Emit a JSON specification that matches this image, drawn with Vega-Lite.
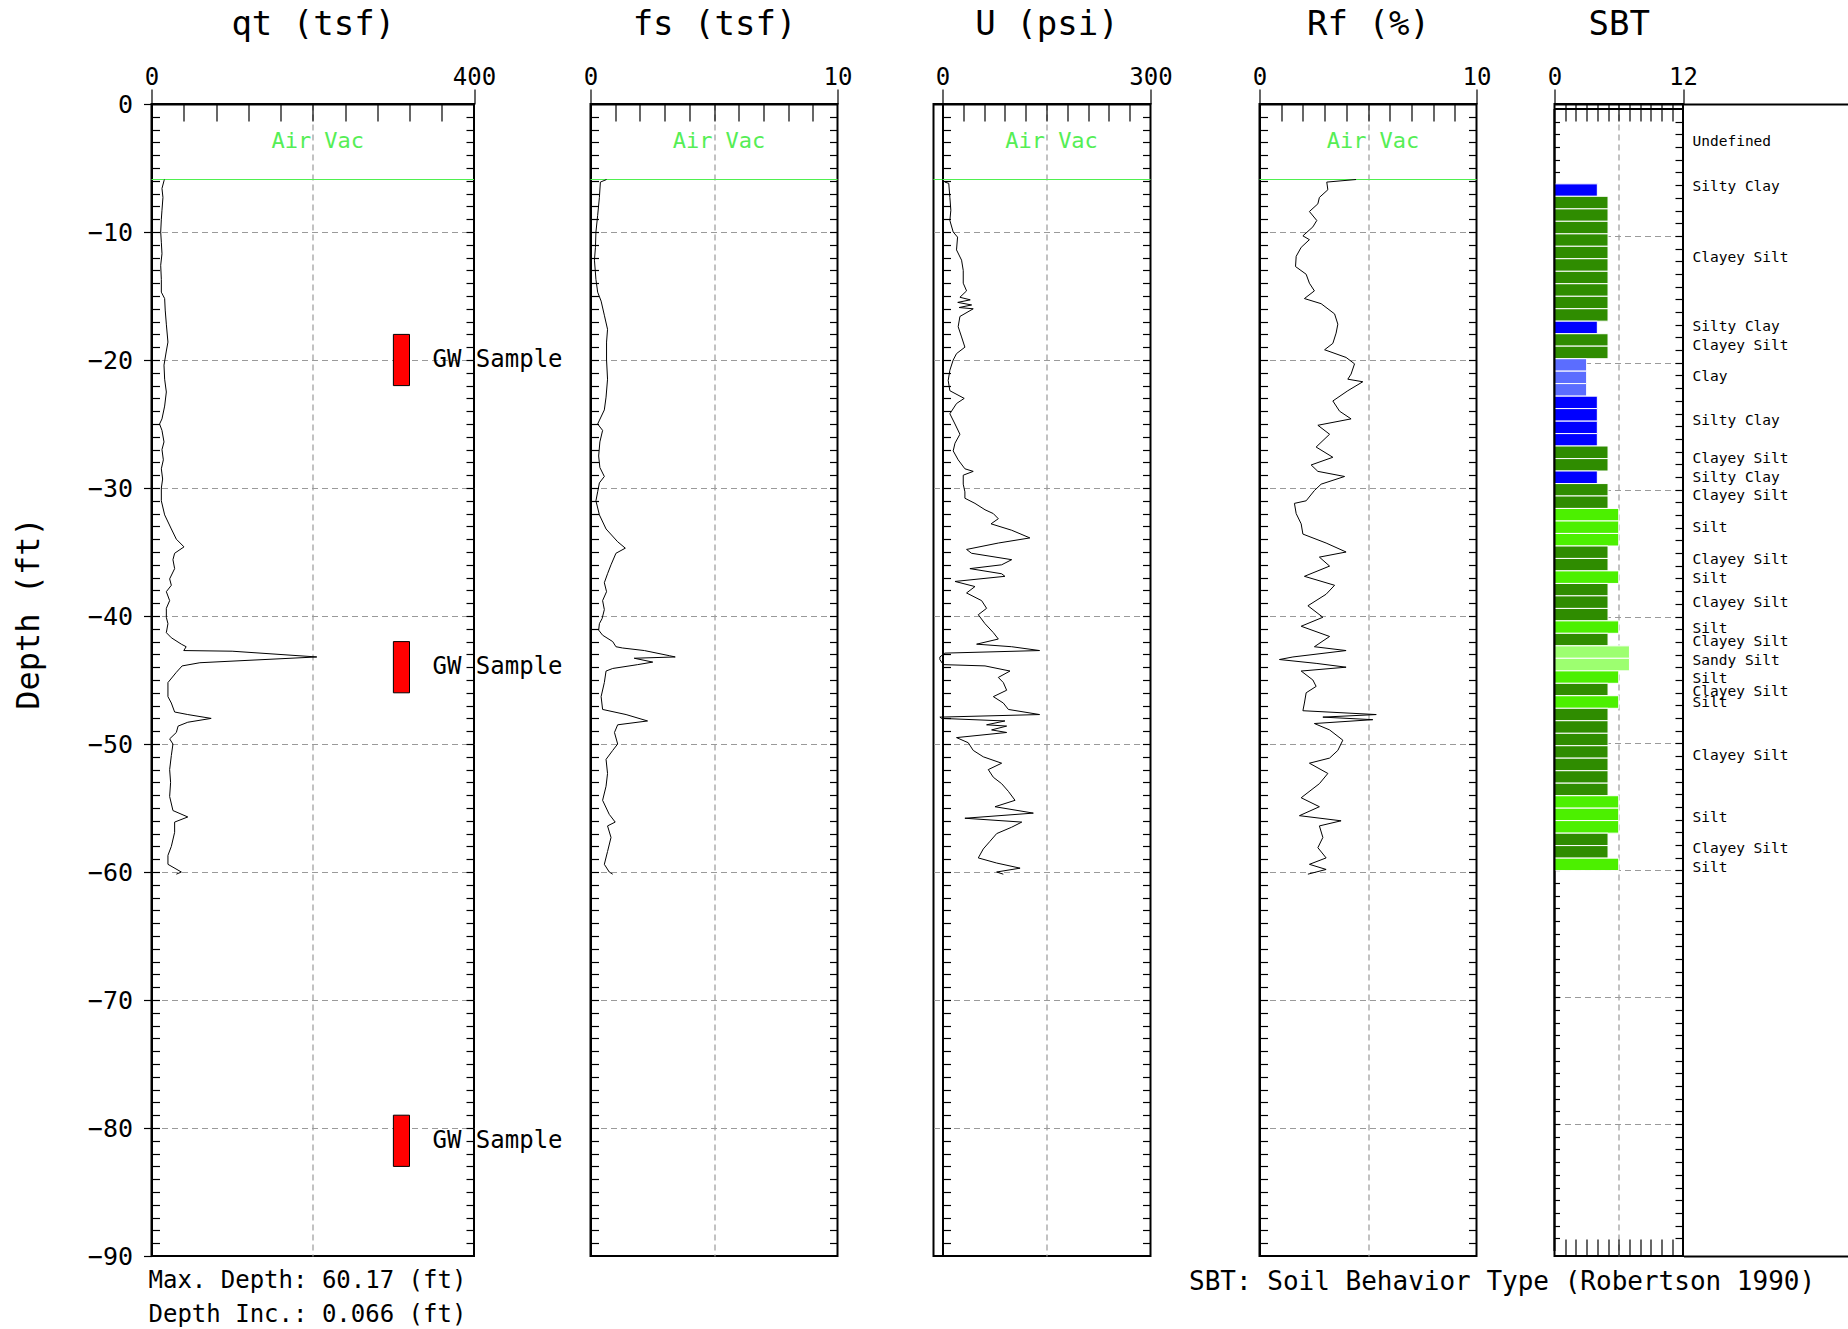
{
"$schema": "https://vega.github.io/schema/vega-lite/v6.json",
"autosize": {"type": "pad"},
"padding": {"left": 10.5, "top": 6, "right": 0, "bottom": 0},
"spacing": 0,
"bounds": "flush",
"config": {
 "font": "DejaVu Sans Mono",
 "view": {"stroke": "black", "strokeWidth": 2},
 "axis": {"labelFont": "DejaVu Sans Mono", "titleFont": "DejaVu Sans Mono", "labelColor": "black", "titleColor": "black", "tickColor": "black", "domainColor": "black", "titleFontWeight": "normal", "labelFlush": false, "labelOverlap": false, "labelBound": false, "grid": false, "tickWidth": 1.2, "domainWidth": 2, "gridDash": [6, 4], "gridColor": "#9a9a9a", "gridWidth": 1.2, "labelFontSize": 24, "titleFontSize": 34},
 "text": {"font": "DejaVu Sans Mono", "color": "black"}
},
"datasets": {
 "qt": [
  {"depth": -5.9, "v": 16}, {"depth": -6.0, "v": 15.5}, {"depth": -6.6, "v": 13}, {"depth": -7.3, "v": 14.2}, {"depth": -8.3, "v": 13}, {"depth": -9.0, "v": 12.2}, {"depth": -10, "v": 11.4}, {"depth": -10.8, "v": 12.2}, {"depth": -11.7, "v": 13}, {"depth": -12.6, "v": 11.4}, {"depth": -13.7, "v": 12.2}, {"depth": -14.7, "v": 12.2}, {"depth": -15.2, "v": 16.3}, {"depth": -16.1, "v": 17}, {"depth": -17.2, "v": 18.4}, {"depth": -18.6, "v": 20.4}, {"depth": -19.3, "v": 18.4}, {"depth": -20.4, "v": 15.5}, {"depth": -21.5, "v": 16.3}, {"depth": -22.5, "v": 18.4}, {"depth": -23.6, "v": 16.3}, {"depth": -24.6, "v": 13}, {"depth": -25.0, "v": 10}, {"depth": -25.5, "v": 13}, {"depth": -26.4, "v": 15.5}, {"depth": -27.0, "v": 13}, {"depth": -27.8, "v": 14.7}, {"depth": -28.5, "v": 12.2}, {"depth": -29.3, "v": 13.8}, {"depth": -30.0, "v": 12.2}, {"depth": -31.0, "v": 12.2}, {"depth": -32.1, "v": 16.3}, {"depth": -33.2, "v": 24.6}, {"depth": -34.0, "v": 30.8}, {"depth": -34.6, "v": 40.3}, {"depth": -35.1, "v": 28.7}, {"depth": -35.6, "v": 26.6}, {"depth": -36.3, "v": 28.7}, {"depth": -37.1, "v": 22.5}, {"depth": -37.6, "v": 24.6}, {"depth": -38.1, "v": 18.4}, {"depth": -38.8, "v": 22.5}, {"depth": -39.4, "v": 18.4}, {"depth": -40.1, "v": 18.4}, {"depth": -40.6, "v": 20.4}, {"depth": -41.3, "v": 18.4}, {"depth": -41.7, "v": 24.6}, {"depth": -42.2, "v": 37}, {"depth": -42.4, "v": 43}, {"depth": -42.7, "v": 40}, {"depth": -42.75, "v": 100}, {"depth": -43.2, "v": 205}, {"depth": -43.65, "v": 60}, {"depth": -43.9, "v": 38}, {"depth": -44.4, "v": 30.8}, {"depth": -45.2, "v": 20.4}, {"depth": -46.3, "v": 20.4}, {"depth": -46.8, "v": 24.6}, {"depth": -47.5, "v": 28.7}, {"depth": -47.7, "v": 45}, {"depth": -48.0, "v": 74}, {"depth": -48.3, "v": 45}, {"depth": -48.6, "v": 33}, {"depth": -49.1, "v": 30.8}, {"depth": -49.6, "v": 22.5}, {"depth": -50.0, "v": 26.6}, {"depth": -50.9, "v": 24.6}, {"depth": -52.0, "v": 22.5}, {"depth": -53.0, "v": 23.7}, {"depth": -54.1, "v": 22.5}, {"depth": -55.2, "v": 26.6}, {"depth": -55.7, "v": 45}, {"depth": -56.1, "v": 28.7}, {"depth": -56.9, "v": 28.7}, {"depth": -58.0, "v": 24.6}, {"depth": -58.7, "v": 20.4}, {"depth": -59.4, "v": 20.4}, {"depth": -60.0, "v": 37}, {"depth": -60.17, "v": 30.8}
 ],
 "fs": [
  {"depth": -5.9, "v": 0.65}, {"depth": -6.1, "v": 0.4}, {"depth": -7.3, "v": 0.36}, {"depth": -8.7, "v": 0.29}, {"depth": -10, "v": 0.22}, {"depth": -11.2, "v": 0.2}, {"depth": -12.2, "v": 0.16}, {"depth": -13.7, "v": 0.22}, {"depth": -14.7, "v": 0.29}, {"depth": -15.4, "v": 0.43}, {"depth": -16.5, "v": 0.56}, {"depth": -17.6, "v": 0.69}, {"depth": -18.6, "v": 0.65}, {"depth": -20.0, "v": 0.65}, {"depth": -21.5, "v": 0.69}, {"depth": -22.9, "v": 0.63}, {"depth": -23.9, "v": 0.56}, {"depth": -25.0, "v": 0.29}, {"depth": -25.5, "v": 0.49}, {"depth": -26.4, "v": 0.38}, {"depth": -27.5, "v": 0.33}, {"depth": -28.4, "v": 0.38}, {"depth": -29.1, "v": 0.56}, {"depth": -29.6, "v": 0.36}, {"depth": -30.3, "v": 0.29}, {"depth": -31.0, "v": 0.22}, {"depth": -32.1, "v": 0.36}, {"depth": -33.2, "v": 0.63}, {"depth": -34.2, "v": 1.1}, {"depth": -34.7, "v": 1.41}, {"depth": -35.1, "v": 1.03}, {"depth": -36.0, "v": 0.83}, {"depth": -36.7, "v": 0.69}, {"depth": -37.4, "v": 0.56}, {"depth": -38.1, "v": 0.65}, {"depth": -38.8, "v": 0.49}, {"depth": -39.5, "v": 0.56}, {"depth": -40.2, "v": 0.47}, {"depth": -40.6, "v": 0.36}, {"depth": -41.1, "v": 0.33}, {"depth": -41.5, "v": 0.49}, {"depth": -42.0, "v": 0.9}, {"depth": -42.4, "v": 1.03}, {"depth": -42.5, "v": 1.3}, {"depth": -42.7, "v": 2.18}, {"depth": -43.1, "v": 3.19}, {"depth": -43.2, "v": 3.43}, {"depth": -43.3, "v": 1.77}, {"depth": -43.6, "v": 2.52}, {"depth": -43.8, "v": 1.91}, {"depth": -44.1, "v": 0.9}, {"depth": -44.3, "v": 0.63}, {"depth": -45.2, "v": 0.56}, {"depth": -46.3, "v": 0.43}, {"depth": -47.3, "v": 0.49}, {"depth": -47.7, "v": 1.44}, {"depth": -48.2, "v": 2.31}, {"depth": -48.5, "v": 1.1}, {"depth": -49.1, "v": 0.97}, {"depth": -50.0, "v": 1.1}, {"depth": -50.5, "v": 0.9}, {"depth": -51.2, "v": 0.63}, {"depth": -52.3, "v": 0.69}, {"depth": -53.3, "v": 0.63}, {"depth": -54.4, "v": 0.49}, {"depth": -55.5, "v": 0.76}, {"depth": -56.1, "v": 1.0}, {"depth": -56.4, "v": 0.69}, {"depth": -57.3, "v": 0.83}, {"depth": -58.4, "v": 0.69}, {"depth": -59.4, "v": 0.56}, {"depth": -60.0, "v": 0.76}, {"depth": -60.17, "v": 0.9}
 ],
 "u": [
  {"depth": -5.9, "v": 0}, {"depth": -6.1, "v": 3.4}, {"depth": -6.2, "v": 9}, {"depth": -7.3, "v": 10.6}, {"depth": -8.3, "v": 12}, {"depth": -9.1, "v": 10.6}, {"depth": -10, "v": 15.4}, {"depth": -10.4, "v": 21.7}, {"depth": -11.4, "v": 20.2}, {"depth": -12.2, "v": 27.5}, {"depth": -13.0, "v": 29.9}, {"depth": -14.0, "v": 29.9}, {"depth": -14.6, "v": 34.7}, {"depth": -15.1, "v": 25.1}, {"depth": -15.3, "v": 40}, {"depth": -15.5, "v": 22}, {"depth": -15.7, "v": 42}, {"depth": -15.9, "v": 24}, {"depth": -16.0, "v": 44.3}, {"depth": -16.6, "v": 25.1}, {"depth": -17.4, "v": 22.6}, {"depth": -18.2, "v": 27.5}, {"depth": -19.0, "v": 32.3}, {"depth": -19.5, "v": 20.2}, {"depth": -20.0, "v": 15.4}, {"depth": -20.8, "v": 10.6}, {"depth": -21.6, "v": 8.2}, {"depth": -22.4, "v": 10.6}, {"depth": -23.0, "v": 31.3}, {"depth": -23.4, "v": 20.2}, {"depth": -24.2, "v": 10.6}, {"depth": -25.0, "v": 18}, {"depth": -25.8, "v": 25.1}, {"depth": -26.5, "v": 18}, {"depth": -27.1, "v": 15.4}, {"depth": -27.8, "v": 22.6}, {"depth": -28.5, "v": 32.3}, {"depth": -28.7, "v": 44.3}, {"depth": -29.0, "v": 29.9}, {"depth": -29.7, "v": 29.9}, {"depth": -30.3, "v": 32.3}, {"depth": -30.8, "v": 32.3}, {"depth": -31.2, "v": 46.8}, {"depth": -31.7, "v": 61.3}, {"depth": -32.0, "v": 73.3}, {"depth": -32.4, "v": 80.5}, {"depth": -32.8, "v": 70}, {"depth": -33.3, "v": 99.8}, {"depth": -33.9, "v": 126}, {"depth": -34.3, "v": 80.5}, {"depth": -34.8, "v": 34.7}, {"depth": -35.1, "v": 41.9}, {"depth": -35.6, "v": 99.8}, {"depth": -36.0, "v": 85.3}, {"depth": -36.3, "v": 39.5}, {"depth": -36.7, "v": 85.3}, {"depth": -36.9, "v": 90}, {"depth": -37.3, "v": 18}, {"depth": -37.7, "v": 46.8}, {"depth": -38.2, "v": 34.7}, {"depth": -38.8, "v": 56.4}, {"depth": -39.4, "v": 63.6}, {"depth": -39.9, "v": 51.6}, {"depth": -40.6, "v": 61.3}, {"depth": -41.3, "v": 73.3}, {"depth": -41.8, "v": 80.5}, {"depth": -42.2, "v": 49.2}, {"depth": -42.4, "v": 99.8}, {"depth": -42.7, "v": 140}, {"depth": -42.9, "v": 3.4}, {"depth": -43.2, "v": -3.8}, {"depth": -43.4, "v": -3.8}, {"depth": -43.8, "v": 1.0}, {"depth": -43.9, "v": 61.3}, {"depth": -44.3, "v": 97.3}, {"depth": -44.8, "v": 80.5}, {"depth": -45.2, "v": 87.7}, {"depth": -45.8, "v": 92.5}, {"depth": -46.3, "v": 73.3}, {"depth": -46.8, "v": 87.7}, {"depth": -47.3, "v": 95}, {"depth": -47.7, "v": 140}, {"depth": -47.9, "v": -3.8}, {"depth": -48.0, "v": -1.4}, {"depth": -48.2, "v": 90}, {"depth": -48.5, "v": 63.6}, {"depth": -48.6, "v": 92.5}, {"depth": -48.9, "v": 70.8}, {"depth": -49.1, "v": 92.5}, {"depth": -49.5, "v": 20.2}, {"depth": -49.9, "v": 37.1}, {"depth": -50.5, "v": 44.3}, {"depth": -51.0, "v": 58.8}, {"depth": -51.5, "v": 85.3}, {"depth": -52.0, "v": 66}, {"depth": -52.6, "v": 73.3}, {"depth": -53.1, "v": 85.3}, {"depth": -53.7, "v": 95}, {"depth": -54.4, "v": 104.6}, {"depth": -54.9, "v": 75.7}, {"depth": -55.4, "v": 131}, {"depth": -55.8, "v": 32.3}, {"depth": -56.1, "v": 114.3}, {"depth": -56.5, "v": 99.8}, {"depth": -57.0, "v": 78.1}, {"depth": -57.6, "v": 68.5}, {"depth": -58.2, "v": 58.8}, {"depth": -58.9, "v": 51.6}, {"depth": -59.3, "v": 78.1}, {"depth": -59.7, "v": 111.9}, {"depth": -60.0, "v": 78.1}, {"depth": -60.17, "v": 87.7}
 ],
 "rf": [
  {"depth": -5.9, "v": 4.45}, {"depth": -6.1, "v": 3.1}, {"depth": -6.7, "v": 3.15}, {"depth": -7.3, "v": 2.76}, {"depth": -7.8, "v": 2.69}, {"depth": -8.4, "v": 2.3}, {"depth": -9.1, "v": 2.64}, {"depth": -9.6, "v": 2.46}, {"depth": -10.3, "v": 2.0}, {"depth": -10.6, "v": 2.3}, {"depth": -11.2, "v": 1.92}, {"depth": -11.9, "v": 1.69}, {"depth": -12.7, "v": 1.66}, {"depth": -13.3, "v": 2.15}, {"depth": -14.0, "v": 2.3}, {"depth": -14.6, "v": 2.53}, {"depth": -15.2, "v": 2.07}, {"depth": -15.6, "v": 2.84}, {"depth": -16.4, "v": 3.46}, {"depth": -17.2, "v": 3.61}, {"depth": -17.9, "v": 3.53}, {"depth": -18.7, "v": 3.38}, {"depth": -19.2, "v": 3.0}, {"depth": -19.8, "v": 3.99}, {"depth": -20.3, "v": 4.38}, {"depth": -21.1, "v": 4.22}, {"depth": -21.5, "v": 4.07}, {"depth": -21.7, "v": 4.76}, {"depth": -22.4, "v": 4.07}, {"depth": -23.2, "v": 3.38}, {"depth": -24.0, "v": 3.69}, {"depth": -24.6, "v": 4.22}, {"depth": -25.1, "v": 2.69}, {"depth": -25.8, "v": 3.23}, {"depth": -26.8, "v": 2.61}, {"depth": -27.6, "v": 3.38}, {"depth": -28.2, "v": 2.38}, {"depth": -28.7, "v": 2.69}, {"depth": -29.1, "v": 3.92}, {"depth": -29.7, "v": 2.84}, {"depth": -30.2, "v": 2.53}, {"depth": -31.0, "v": 2.15}, {"depth": -31.2, "v": 1.61}, {"depth": -32.0, "v": 1.69}, {"depth": -32.8, "v": 1.92}, {"depth": -33.6, "v": 2.0}, {"depth": -34.3, "v": 3.07}, {"depth": -35.0, "v": 3.99}, {"depth": -35.4, "v": 2.76}, {"depth": -36.1, "v": 3.23}, {"depth": -36.9, "v": 2.07}, {"depth": -37.6, "v": 3.46}, {"depth": -38.3, "v": 3.07}, {"depth": -39.2, "v": 2.23}, {"depth": -40.1, "v": 2.92}, {"depth": -40.8, "v": 1.92}, {"depth": -41.6, "v": 3.23}, {"depth": -42.4, "v": 2.53}, {"depth": -42.7, "v": 3.99}, {"depth": -43.2, "v": 1.54}, {"depth": -43.4, "v": 0.92}, {"depth": -43.7, "v": 2.61}, {"depth": -44.0, "v": 3.99}, {"depth": -44.3, "v": 1.92}, {"depth": -45.0, "v": 2.46}, {"depth": -45.5, "v": 2.61}, {"depth": -46.0, "v": 2.15}, {"depth": -46.8, "v": 2.07}, {"depth": -47.4, "v": 2.0}, {"depth": -47.7, "v": 5.38}, {"depth": -47.9, "v": 2.92}, {"depth": -48.1, "v": 5.22}, {"depth": -48.4, "v": 2.53}, {"depth": -48.9, "v": 3.23}, {"depth": -49.7, "v": 3.84}, {"depth": -50.5, "v": 3.61}, {"depth": -51.1, "v": 3.23}, {"depth": -51.5, "v": 2.3}, {"depth": -52.3, "v": 3.15}, {"depth": -53.1, "v": 2.76}, {"depth": -54.2, "v": 1.92}, {"depth": -54.9, "v": 2.76}, {"depth": -55.6, "v": 1.84}, {"depth": -56.0, "v": 3.76}, {"depth": -56.4, "v": 2.76}, {"depth": -57.3, "v": 2.92}, {"depth": -58.1, "v": 2.69}, {"depth": -58.9, "v": 3.07}, {"depth": -59.4, "v": 2.3}, {"depth": -59.8, "v": 3.07}, {"depth": -60.17, "v": 2.23}
 ],
 "gw": [
  {"top": -18, "bot": -22, "mid": -20, "x1": 300, "x2": 320, "label": "GW Sample"},
  {"top": -42, "bot": -46, "mid": -44, "x1": 300, "x2": 320, "label": "GW Sample"},
  {"top": -79, "bot": -83, "mid": -81, "x1": 300, "x2": 320, "label": "GW Sample"}
 ],
 "sbt": [
  {"top": -5.90, "bot": -6.88, "zone": "Silty Clay", "sbt": 4},
  {"top": -6.88, "bot": -7.87, "zone": "Clayey Silt", "sbt": 5},
  {"top": -7.87, "bot": -8.85, "zone": "Clayey Silt", "sbt": 5},
  {"top": -8.85, "bot": -9.84, "zone": "Clayey Silt", "sbt": 5},
  {"top": -9.84, "bot": -10.82, "zone": "Clayey Silt", "sbt": 5},
  {"top": -10.82, "bot": -11.80, "zone": "Clayey Silt", "sbt": 5},
  {"top": -11.80, "bot": -12.79, "zone": "Clayey Silt", "sbt": 5},
  {"top": -12.79, "bot": -13.77, "zone": "Clayey Silt", "sbt": 5},
  {"top": -13.77, "bot": -14.76, "zone": "Clayey Silt", "sbt": 5},
  {"top": -14.76, "bot": -15.74, "zone": "Clayey Silt", "sbt": 5},
  {"top": -15.74, "bot": -16.72, "zone": "Clayey Silt", "sbt": 5},
  {"top": -16.72, "bot": -17.71, "zone": "Silty Clay", "sbt": 4},
  {"top": -17.71, "bot": -18.69, "zone": "Clayey Silt", "sbt": 5},
  {"top": -18.69, "bot": -19.68, "zone": "Clayey Silt", "sbt": 5},
  {"top": -19.68, "bot": -20.66, "zone": "Clay", "sbt": 3},
  {"top": -20.66, "bot": -21.64, "zone": "Clay", "sbt": 3},
  {"top": -21.64, "bot": -22.63, "zone": "Clay", "sbt": 3},
  {"top": -22.63, "bot": -23.61, "zone": "Silty Clay", "sbt": 4},
  {"top": -23.61, "bot": -24.60, "zone": "Silty Clay", "sbt": 4},
  {"top": -24.60, "bot": -25.58, "zone": "Silty Clay", "sbt": 4},
  {"top": -25.58, "bot": -26.56, "zone": "Silty Clay", "sbt": 4},
  {"top": -26.56, "bot": -27.55, "zone": "Clayey Silt", "sbt": 5},
  {"top": -27.55, "bot": -28.53, "zone": "Clayey Silt", "sbt": 5},
  {"top": -28.53, "bot": -29.52, "zone": "Silty Clay", "sbt": 4},
  {"top": -29.52, "bot": -30.50, "zone": "Clayey Silt", "sbt": 5},
  {"top": -30.50, "bot": -31.48, "zone": "Clayey Silt", "sbt": 5},
  {"top": -31.48, "bot": -32.47, "zone": "Silt", "sbt": 6},
  {"top": -32.47, "bot": -33.45, "zone": "Silt", "sbt": 6},
  {"top": -33.45, "bot": -34.44, "zone": "Silt", "sbt": 6},
  {"top": -34.44, "bot": -35.42, "zone": "Clayey Silt", "sbt": 5},
  {"top": -35.42, "bot": -36.40, "zone": "Clayey Silt", "sbt": 5},
  {"top": -36.40, "bot": -37.39, "zone": "Silt", "sbt": 6},
  {"top": -37.39, "bot": -38.37, "zone": "Clayey Silt", "sbt": 5},
  {"top": -38.37, "bot": -39.36, "zone": "Clayey Silt", "sbt": 5},
  {"top": -39.36, "bot": -40.34, "zone": "Clayey Silt", "sbt": 5},
  {"top": -40.34, "bot": -41.32, "zone": "Silt", "sbt": 6},
  {"top": -41.32, "bot": -42.31, "zone": "Clayey Silt", "sbt": 5},
  {"top": -42.31, "bot": -43.29, "zone": "Sandy Silt", "sbt": 7},
  {"top": -43.29, "bot": -44.28, "zone": "Sandy Silt", "sbt": 7},
  {"top": -44.28, "bot": -45.26, "zone": "Silt", "sbt": 6},
  {"top": -45.26, "bot": -46.24, "zone": "Clayey Silt", "sbt": 5},
  {"top": -46.24, "bot": -47.23, "zone": "Silt", "sbt": 6},
  {"top": -47.23, "bot": -48.21, "zone": "Clayey Silt", "sbt": 5},
  {"top": -48.21, "bot": -49.20, "zone": "Clayey Silt", "sbt": 5},
  {"top": -49.20, "bot": -50.18, "zone": "Clayey Silt", "sbt": 5},
  {"top": -50.18, "bot": -51.16, "zone": "Clayey Silt", "sbt": 5},
  {"top": -51.16, "bot": -52.15, "zone": "Clayey Silt", "sbt": 5},
  {"top": -52.15, "bot": -53.13, "zone": "Clayey Silt", "sbt": 5},
  {"top": -53.13, "bot": -54.12, "zone": "Clayey Silt", "sbt": 5},
  {"top": -54.12, "bot": -55.10, "zone": "Silt", "sbt": 6},
  {"top": -55.10, "bot": -56.08, "zone": "Silt", "sbt": 6},
  {"top": -56.08, "bot": -57.07, "zone": "Silt", "sbt": 6},
  {"top": -57.07, "bot": -58.05, "zone": "Clayey Silt", "sbt": 5},
  {"top": -58.05, "bot": -59.04, "zone": "Clayey Silt", "sbt": 5},
  {"top": -59.04, "bot": -60.02, "zone": "Silt", "sbt": 6}
 ],
 "sbtlabels": [
  {"depth": -3.0, "label": "Undefined"}, {"depth": -6.5, "label": "Silty Clay"}, {"depth": -12.0, "label": "Clayey Silt"}, {"depth": -17.4, "label": "Silty Clay"}, {"depth": -18.9, "label": "Clayey Silt"}, {"depth": -21.3, "label": "Clay"}, {"depth": -24.8, "label": "Silty Clay"}, {"depth": -27.7, "label": "Clayey Silt"}, {"depth": -29.2, "label": "Silty Clay"}, {"depth": -30.6, "label": "Clayey Silt"}, {"depth": -33.1, "label": "Silt"}, {"depth": -35.6, "label": "Clayey Silt"}, {"depth": -37.1, "label": "Silt"}, {"depth": -39.0, "label": "Clayey Silt"}, {"depth": -41.0, "label": "Silt"}, {"depth": -42.0, "label": "Clayey Silt"}, {"depth": -43.5, "label": "Sandy Silt"}, {"depth": -44.9, "label": "Silt"}, {"depth": -45.9, "label": "Clayey Silt"}, {"depth": -46.8, "label": "Silt"}, {"depth": -50.9, "label": "Clayey Silt"}, {"depth": -55.8, "label": "Silt"}, {"depth": -58.2, "label": "Clayey Silt"}, {"depth": -59.7, "label": "Silt"}
 ]
},
"hconcat": [
 {
  "width": 322.5, "height": 1152,
  "resolve": {"axis": {"x": "independent", "y": "independent"}},
  "layer": [
   {"data": {"values": [{"depth": -5.9}]}, "mark": {"type": "rule", "color": "#4ff04f", "strokeWidth": 1.2},
    "encoding": {
     "x": {"datum": 0, "type": "quantitative", "scale": {"domain": [0, 400], "nice": false, "zero": false}, "axis": {"orient": "top", "values": [40, 80, 120, 160, 200, 240, 280, 320, 360], "tickSize": -17, "labels": false, "domain": false, "title": null}},
     "x2": {"datum": 400},
     "y": {"field": "depth", "type": "quantitative", "scale": {"domain": [-90, 0], "nice": false, "zero": false}, "axis": {"orient": "right", "values": [-1,-2,-3,-4,-5,-6,-7,-8,-9,-10,-11,-12,-13,-14,-15,-16,-17,-18,-19,-20,-21,-22,-23,-24,-25,-26,-27,-28,-29,-30,-31,-32,-33,-34,-35,-36,-37,-38,-39,-40,-41,-42,-43,-44,-45,-46,-47,-48,-49,-50,-51,-52,-53,-54,-55,-56,-57,-58,-59,-60,-61,-62,-63,-64,-65,-66,-67,-68,-69,-70,-71,-72,-73,-74,-75,-76,-77,-78,-79,-80,-81,-82,-83,-84,-85,-86,-87,-88,-89], "tickSize": -8, "labels": false, "domain": false, "title": null}}
    }},
   {"data": {"values": [{"t": "Air Vac"}]}, "mark": {"type": "text", "color": "#55ee55", "fontSize": 22, "dx": 5},
    "encoding": {
     "text": {"field": "t"},
     "x": {"datum": 200, "type": "quantitative", "scale": {"domain": [0, 400], "nice": false, "zero": false}, "axis": {"orient": "bottom", "values": [200], "grid": true, "ticks": false, "labels": false, "domain": false, "title": null}},
     "y": {"datum": -2.9, "type": "quantitative", "scale": {"domain": [-90, 0], "nice": false, "zero": false}, "axis": {"orient": "left", "values": [-10,-20,-30,-40,-50,-60,-70,-80], "grid": true, "ticks": false, "labels": false, "domain": false, "title": null}}
    }},
   {"data": {"name": "qt"}, "mark": {"type": "line", "color": "black", "strokeWidth": 1},
    "encoding": {
     "x": {"field": "v", "type": "quantitative", "scale": {"domain": [0, 400], "nice": false, "zero": false}, "axis": {"orient": "top", "values": [0, 400], "tickSize": 15, "labelPadding": 0, "domain": true, "title": "qt (tsf)", "titleY": -80, "titleBaseline": "middle"}},
     "y": {"field": "depth", "type": "quantitative", "scale": {"domain": [-90, 0], "nice": false, "zero": false}, "axis": {"orient": "left", "values": [-1,-2,-3,-4,-5,-6,-7,-8,-9,-10,-11,-12,-13,-14,-15,-16,-17,-18,-19,-20,-21,-22,-23,-24,-25,-26,-27,-28,-29,-30,-31,-32,-33,-34,-35,-36,-37,-38,-39,-40,-41,-42,-43,-44,-45,-46,-47,-48,-49,-50,-51,-52,-53,-54,-55,-56,-57,-58,-59,-60,-61,-62,-63,-64,-65,-66,-67,-68,-69,-70,-71,-72,-73,-74,-75,-76,-77,-78,-79,-80,-81,-82,-83,-84,-85,-86,-87,-88,-89], "tickSize": -8, "labels": false, "domain": true, "title": null}},
     "order": {"field": "depth", "type": "quantitative"}
    }},
   {"data": {"name": "gw"}, "mark": {"type": "rect", "color": "#ff0000", "stroke": "black", "strokeWidth": 1},
    "encoding": {
     "x": {"field": "x1", "type": "quantitative", "scale": {"domain": [0, 400], "nice": false, "zero": false}, "axis": {"orient": "bottom", "ticks": false, "labels": false, "domain": false, "title": ["Max. Depth: 60.17 (ft)", "Depth Inc.: 0.066 (ft)"], "titleFontSize": 24, "titleX": -3.5, "titleY": 24, "titleAlign": "left", "titleBaseline": "middle", "titleLineHeight": 34}},
     "x2": {"field": "x2"},
     "y": {"field": "top", "type": "quantitative", "scale": {"domain": [-90, 0], "nice": false, "zero": false}, "axis": {"orient": "left", "values": [0,-10,-20,-30,-40,-50,-60,-70,-80,-90], "tickSize": 8, "labelPadding": 11, "labelFontSize": 25, "format": "d", "domain": false, "title": "Depth (ft)", "titleFontSize": 32, "titleX": -123.5, "titleY": 509, "titleAngle": 270, "titleAlign": "center", "titleBaseline": "middle"}},
     "y2": {"field": "bot"}
    }},
   {"data": {"name": "gw"}, "mark": {"type": "text", "align": "left", "baseline": "middle", "fontSize": 24, "dx": 23},
    "encoding": {
     "text": {"field": "label"},
     "x": {"field": "x2", "type": "quantitative", "scale": {"domain": [0, 400], "nice": false, "zero": false}, "axis": null},
     "y": {"field": "mid", "type": "quantitative", "scale": {"domain": [-90, 0], "nice": false, "zero": false}, "axis": null}
    }}
  ]
 },
 {"width": 115.5, "height": 1152, "view": {"stroke": null}, "data": {"values": [{}]}, "mark": {"type": "text", "text": ""}},
 {
  "width": 247, "height": 1152,
  "resolve": {"axis": {"x": "independent", "y": "independent"}},
  "layer": [
   {"data": {"values": [{"depth": -5.9}]}, "mark": {"type": "rule", "color": "#4ff04f", "strokeWidth": 1.2},
    "encoding": {
     "x": {"datum": 0, "type": "quantitative", "scale": {"domain": [0, 10], "nice": false, "zero": false}, "axis": {"orient": "top", "values": [1,2,3,4,5,6,7,8,9], "tickSize": -17, "labels": false, "domain": false, "title": null}},
     "x2": {"datum": 10},
     "y": {"field": "depth", "type": "quantitative", "scale": {"domain": [-90, 0], "nice": false, "zero": false}, "axis": {"orient": "right", "values": [-1,-2,-3,-4,-5,-6,-7,-8,-9,-10,-11,-12,-13,-14,-15,-16,-17,-18,-19,-20,-21,-22,-23,-24,-25,-26,-27,-28,-29,-30,-31,-32,-33,-34,-35,-36,-37,-38,-39,-40,-41,-42,-43,-44,-45,-46,-47,-48,-49,-50,-51,-52,-53,-54,-55,-56,-57,-58,-59,-60,-61,-62,-63,-64,-65,-66,-67,-68,-69,-70,-71,-72,-73,-74,-75,-76,-77,-78,-79,-80,-81,-82,-83,-84,-85,-86,-87,-88,-89], "tickSize": -8, "labels": false, "domain": false, "title": null}}
    }},
   {"data": {"values": [{"t": "Air Vac"}]}, "mark": {"type": "text", "color": "#55ee55", "fontSize": 22, "dx": 5},
    "encoding": {
     "text": {"field": "t"},
     "x": {"datum": 5, "type": "quantitative", "scale": {"domain": [0, 10], "nice": false, "zero": false}, "axis": {"orient": "bottom", "values": [5], "grid": true, "ticks": false, "labels": false, "domain": false, "title": null}},
     "y": {"datum": -2.9, "type": "quantitative", "scale": {"domain": [-90, 0], "nice": false, "zero": false}, "axis": {"orient": "left", "values": [-10,-20,-30,-40,-50,-60,-70,-80], "grid": true, "ticks": false, "labels": false, "domain": false, "title": null}}
    }},
   {"data": {"name": "fs"}, "mark": {"type": "line", "color": "black", "strokeWidth": 1},
    "encoding": {
     "x": {"field": "v", "type": "quantitative", "scale": {"domain": [0, 10], "nice": false, "zero": false}, "axis": {"orient": "top", "values": [0, 10], "tickSize": 15, "labelPadding": 0, "domain": true, "title": "fs (tsf)", "titleY": -80, "titleBaseline": "middle"}},
     "y": {"field": "depth", "type": "quantitative", "scale": {"domain": [-90, 0], "nice": false, "zero": false}, "axis": {"orient": "left", "values": [-1,-2,-3,-4,-5,-6,-7,-8,-9,-10,-11,-12,-13,-14,-15,-16,-17,-18,-19,-20,-21,-22,-23,-24,-25,-26,-27,-28,-29,-30,-31,-32,-33,-34,-35,-36,-37,-38,-39,-40,-41,-42,-43,-44,-45,-46,-47,-48,-49,-50,-51,-52,-53,-54,-55,-56,-57,-58,-59,-60,-61,-62,-63,-64,-65,-66,-67,-68,-69,-70,-71,-72,-73,-74,-75,-76,-77,-78,-79,-80,-81,-82,-83,-84,-85,-86,-87,-88,-89], "tickSize": -8, "labels": false, "domain": true, "title": null}},
     "order": {"field": "depth", "type": "quantitative"}
    }}
  ]
 },
 {"width": 95.5, "height": 1152, "view": {"stroke": null}, "data": {"values": [{}]}, "mark": {"type": "text", "text": ""}},
 {
  "width": 217, "height": 1152,
  "resolve": {"axis": {"x": "independent", "y": "independent"}},
  "layer": [
   {"data": {"values": [{"depth": -5.9}]}, "mark": {"type": "rule", "color": "#4ff04f", "strokeWidth": 1.2},
    "encoding": {
     "x": {"datum": -13, "type": "quantitative", "scale": {"domain": [-13, 300], "nice": false, "zero": false}, "axis": {"orient": "top", "values": [30, 60, 90, 120, 150, 180, 210, 240, 270], "tickSize": -17, "labels": false, "domain": false, "title": null}},
     "x2": {"datum": 300},
     "y": {"field": "depth", "type": "quantitative", "scale": {"domain": [-90, 0], "nice": false, "zero": false}, "axis": {"orient": "right", "values": [-1,-2,-3,-4,-5,-6,-7,-8,-9,-10,-11,-12,-13,-14,-15,-16,-17,-18,-19,-20,-21,-22,-23,-24,-25,-26,-27,-28,-29,-30,-31,-32,-33,-34,-35,-36,-37,-38,-39,-40,-41,-42,-43,-44,-45,-46,-47,-48,-49,-50,-51,-52,-53,-54,-55,-56,-57,-58,-59,-60,-61,-62,-63,-64,-65,-66,-67,-68,-69,-70,-71,-72,-73,-74,-75,-76,-77,-78,-79,-80,-81,-82,-83,-84,-85,-86,-87,-88,-89], "tickSize": -8, "labels": false, "domain": false, "title": null}}
    }},
   {"data": {"values": [{"t": "Air Vac"}]}, "mark": {"type": "text", "color": "#55ee55", "fontSize": 22, "dx": 5},
    "encoding": {
     "text": {"field": "t"},
     "x": {"datum": 150, "type": "quantitative", "scale": {"domain": [-13, 300], "nice": false, "zero": false}, "axis": {"orient": "bottom", "values": [150], "grid": true, "ticks": false, "labels": false, "domain": false, "title": null}},
     "y": {"datum": -2.9, "type": "quantitative", "scale": {"domain": [-90, 0], "nice": false, "zero": false}, "axis": {"orient": "left", "values": [-10,-20,-30,-40,-50,-60,-70,-80], "grid": true, "ticks": false, "labels": false, "domain": false, "title": null}}
    }},
   {"data": {"name": "u"}, "mark": {"type": "line", "color": "black", "strokeWidth": 1},
    "encoding": {
     "x": {"field": "v", "type": "quantitative", "scale": {"domain": [-13, 300], "nice": false, "zero": false}, "axis": {"orient": "top", "values": [0, 300], "tickSize": 15, "labelPadding": 0, "domain": true, "title": "U (psi)", "titleX": 113, "titleY": -80, "titleBaseline": "middle"}},
     "y": {"field": "depth", "type": "quantitative", "scale": {"domain": [-90, 0], "nice": false, "zero": false}, "axis": {"orient": "left", "offset": -9, "values": [-1,-2,-3,-4,-5,-6,-7,-8,-9,-10,-11,-12,-13,-14,-15,-16,-17,-18,-19,-20,-21,-22,-23,-24,-25,-26,-27,-28,-29,-30,-31,-32,-33,-34,-35,-36,-37,-38,-39,-40,-41,-42,-43,-44,-45,-46,-47,-48,-49,-50,-51,-52,-53,-54,-55,-56,-57,-58,-59,-60,-61,-62,-63,-64,-65,-66,-67,-68,-69,-70,-71,-72,-73,-74,-75,-76,-77,-78,-79,-80,-81,-82,-83,-84,-85,-86,-87,-88,-89], "tickSize": -8, "labels": false, "domain": true, "title": null}},
     "order": {"field": "depth", "type": "quantitative"}
    }}
  ]
 },
 {"width": 109, "height": 1152, "view": {"stroke": null}, "data": {"values": [{}]}, "mark": {"type": "text", "text": ""}},
 {
  "width": 217, "height": 1152,
  "resolve": {"axis": {"x": "independent", "y": "independent"}},
  "layer": [
   {"data": {"values": [{"depth": -5.9}]}, "mark": {"type": "rule", "color": "#4ff04f", "strokeWidth": 1.2},
    "encoding": {
     "x": {"datum": 0, "type": "quantitative", "scale": {"domain": [0, 10], "nice": false, "zero": false}, "axis": {"orient": "top", "values": [1,2,3,4,5,6,7,8,9], "tickSize": -17, "labels": false, "domain": false, "title": null}},
     "x2": {"datum": 10},
     "y": {"field": "depth", "type": "quantitative", "scale": {"domain": [-90, 0], "nice": false, "zero": false}, "axis": {"orient": "right", "values": [-1,-2,-3,-4,-5,-6,-7,-8,-9,-10,-11,-12,-13,-14,-15,-16,-17,-18,-19,-20,-21,-22,-23,-24,-25,-26,-27,-28,-29,-30,-31,-32,-33,-34,-35,-36,-37,-38,-39,-40,-41,-42,-43,-44,-45,-46,-47,-48,-49,-50,-51,-52,-53,-54,-55,-56,-57,-58,-59,-60,-61,-62,-63,-64,-65,-66,-67,-68,-69,-70,-71,-72,-73,-74,-75,-76,-77,-78,-79,-80,-81,-82,-83,-84,-85,-86,-87,-88,-89], "tickSize": -8, "labels": false, "domain": false, "title": null}}
    }},
   {"data": {"values": [{"t": "Air Vac"}]}, "mark": {"type": "text", "color": "#55ee55", "fontSize": 22, "dx": 5},
    "encoding": {
     "text": {"field": "t"},
     "x": {"datum": 5, "type": "quantitative", "scale": {"domain": [0, 10], "nice": false, "zero": false}, "axis": {"orient": "bottom", "values": [5], "grid": true, "ticks": false, "labels": false, "domain": false, "title": null}},
     "y": {"datum": -2.9, "type": "quantitative", "scale": {"domain": [-90, 0], "nice": false, "zero": false}, "axis": {"orient": "left", "values": [-10,-20,-30,-40,-50,-60,-70,-80], "grid": true, "ticks": false, "labels": false, "domain": false, "title": null}}
    }},
   {"data": {"name": "rf"}, "mark": {"type": "line", "color": "black", "strokeWidth": 1},
    "encoding": {
     "x": {"field": "v", "type": "quantitative", "scale": {"domain": [0, 10], "nice": false, "zero": false}, "axis": {"orient": "top", "values": [0, 10], "tickSize": 15, "labelPadding": 0, "domain": true, "title": "Rf (%)", "titleY": -80, "titleBaseline": "middle"}},
     "y": {"field": "depth", "type": "quantitative", "scale": {"domain": [-90, 0], "nice": false, "zero": false}, "axis": {"orient": "left", "values": [-1,-2,-3,-4,-5,-6,-7,-8,-9,-10,-11,-12,-13,-14,-15,-16,-17,-18,-19,-20,-21,-22,-23,-24,-25,-26,-27,-28,-29,-30,-31,-32,-33,-34,-35,-36,-37,-38,-39,-40,-41,-42,-43,-44,-45,-46,-47,-48,-49,-50,-51,-52,-53,-54,-55,-56,-57,-58,-59,-60,-61,-62,-63,-64,-65,-66,-67,-68,-69,-70,-71,-72,-73,-74,-75,-76,-77,-78,-79,-80,-81,-82,-83,-84,-85,-86,-87,-88,-89], "tickSize": -8, "labels": false, "domain": true, "title": null}},
     "order": {"field": "depth", "type": "quantitative"}
    }}
  ]
 },
 {"width": 77.5, "height": 1152, "view": {"stroke": null}, "data": {"values": [{}]}, "mark": {"type": "text", "text": ""}},
 {
  "width": 128.5, "height": 1152,
  "resolve": {"axis": {"x": "independent", "y": "independent"}},
  "layer": [
   {"data": {"name": "sbt"}, "mark": {"type": "bar", "orient": "horizontal", "stroke": "white", "strokeWidth": 1},
    "encoding": {
     "x": {"field": "sbt", "type": "quantitative", "scale": {"domain": [0, 12], "nice": false, "zero": false}, "axis": {"orient": "bottom", "values": [6], "grid": true, "ticks": false, "labels": false, "domain": false, "title": null}},
     "y": {"field": "top", "type": "quantitative", "scale": {"domain": [-90, 0], "nice": false, "zero": false}, "axis": {"orient": "left", "values": [-10,-20,-30,-40,-50,-60,-70,-80], "grid": true, "ticks": false, "labels": false, "domain": false, "title": null}},
     "y2": {"field": "bot"},
     "color": {"field": "zone", "type": "nominal", "scale": {"domain": ["Clay", "Silty Clay", "Clayey Silt", "Silt", "Sandy Silt"], "range": ["#5b6dff", "#0000ff", "#2f8c00", "#4cf000", "#9dff70"]}, "legend": null}
    }},
   {"data": {"values": [{}]}, "mark": {"type": "rule", "color": "black", "strokeWidth": 2},
    "encoding": {
     "x": {"datum": 12, "type": "quantitative", "scale": {"domain": [0, 12], "nice": false, "zero": false}, "axis": {"orient": "top", "values": [0, 12], "tickSize": 15, "labelPadding": 0, "domain": true, "title": "SBT", "titleY": -80, "titleBaseline": "middle"}},
     "y": {"datum": 0, "type": "quantitative", "scale": {"domain": [-90, 0], "nice": false, "zero": false}, "axis": {"orient": "right", "values": [-1,-2,-3,-4,-5,-6,-7,-8,-9,-10,-11,-12,-13,-14,-15,-16,-17,-18,-19,-20,-21,-22,-23,-24,-25,-26,-27,-28,-29,-30,-31,-32,-33,-34,-35,-36,-37,-38,-39,-40,-41,-42,-43,-44,-45,-46,-47,-48,-49,-50,-51,-52,-53,-54,-55,-56,-57,-58,-59,-60,-61,-62,-63,-64,-65,-66,-67,-68,-69,-70,-71,-72,-73,-74,-75,-76,-77,-78,-79,-80,-81,-82,-83,-84,-85,-86,-87,-88,-89], "tickSize": -8, "labels": false, "domain": false, "title": null}},
     "y2": {"datum": -90}
    }},
   {"data": {"values": [{}]}, "mark": {"type": "rule", "color": "black", "strokeWidth": 2},
    "encoding": {
     "x": {"datum": 0, "type": "quantitative", "scale": {"domain": [0, 12], "nice": false, "zero": false}, "axis": {"orient": "bottom", "values": [1,2,3,4,5,6,7,8,9,10,11], "tickSize": -17, "labels": false, "domain": false, "title": null}},
     "y": {"datum": 0, "type": "quantitative", "scale": {"domain": [-90, 0], "nice": false, "zero": false}, "axis": {"orient": "left", "values": [-1,-2,-3,-4,-5,-6,-7,-8,-9,-10,-11,-12,-13,-14,-15,-16,-17,-18,-19,-20,-21,-22,-23,-24,-25,-26,-27,-28,-29,-30,-31,-32,-33,-34,-35,-36,-37,-38,-39,-40,-41,-42,-43,-44,-45,-46,-47,-48,-49,-50,-51,-52,-53,-54,-55,-56,-57,-58,-59,-60,-61,-62,-63,-64,-65,-66,-67,-68,-69,-70,-71,-72,-73,-74,-75,-76,-77,-78,-79,-80,-81,-82,-83,-84,-85,-86,-87,-88,-89], "tickSize": -5, "labels": false, "domain": false, "title": null}},
     "y2": {"datum": -90}
    }},
   {"data": {"values": [{}]}, "mark": {"type": "rule", "color": "black", "strokeWidth": 2},
    "encoding": {
     "x": {"datum": 0, "type": "quantitative", "scale": {"domain": [0, 12], "nice": false, "zero": false}, "axis": {"orient": "top", "values": [1,2,3,4,5,6,7,8,9,10,11], "tickSize": -17, "labels": false, "domain": false, "title": null}},
     "x2": {"datum": 12},
     "y": {"datum": 0, "type": "quantitative", "scale": {"domain": [-90, 0], "nice": false, "zero": false}, "axis": null}
    }}
  ]
 },
 {
  "width": 165, "height": 1152, "view": {"stroke": null},
  "resolve": {"axis": {"x": "independent", "y": "independent"}},
  "layer": [
   {"data": {"name": "sbtlabels"}, "mark": {"type": "text", "align": "left", "baseline": "middle", "fontSize": 14.5, "dx": 9},
    "encoding": {
     "text": {"field": "label"},
     "x": {"datum": 0, "type": "quantitative", "scale": {"domain": [0, 1], "nice": false, "zero": false}, "axis": {"orient": "top", "ticks": false, "labels": false, "domain": true, "title": null}},
     "y": {"field": "depth", "type": "quantitative", "scale": {"domain": [-90, 0], "nice": false, "zero": false}, "axis": null}
    }},
   {"data": {"values": [{}]}, "mark": {"type": "text", "text": ""},
    "encoding": {
     "x": {"datum": 0, "type": "quantitative", "scale": {"domain": [0, 1], "nice": false, "zero": false}, "axis": {"orient": "bottom", "ticks": false, "labels": false, "domain": true, "title": "SBT: Soil Behavior Type (Robertson 1990)", "titleFontSize": 26, "titleX": -495, "titleY": 25, "titleAlign": "left", "titleBaseline": "middle"}}
    }}
  ]
 }
]
}
